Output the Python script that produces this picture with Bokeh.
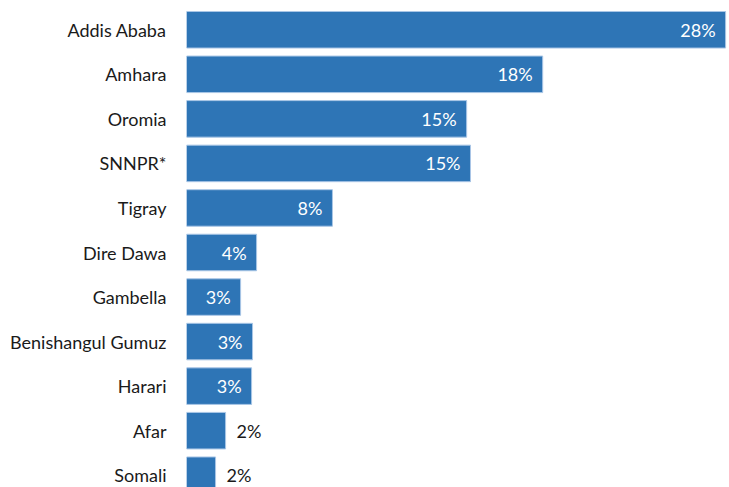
from bokeh.plotting import figure
from bokeh.models import ColumnDataSource, Range1d
from bokeh.core.properties import value
from bokeh.embed import file_html
from bokeh.resources import INLINE

regions = ["Addis Ababa", "Amhara", "Oromia", "SNNPR*", "Tigray", "Dire Dawa",
           "Gambella", "Benishangul Gumuz", "Harari", "Afar", "Somali"]
shares = [28.0, 18.5, 14.55, 14.75, 7.58, 3.64, 2.81, 3.43, 3.38, 2.03, 1.51]
labels = ["28%", "18%", "15%", "15%", "8%", "4%", "3%", "3%", "3%", "2%", "2%"]

inside = [v >= 2.5 for v in shares]
src = ColumnDataSource(dict(
    region=regions, share=shares, label=labels,
    color=["white" if i else "#1a1a1a" for i in inside],
    align=["right" if i else "left" for i in inside],
    xoff=[-10 if i else 11 for i in inside],
))

FONT = "Lato"

p = figure(width=728, height=497, y_range=list(reversed(regions)),
           x_range=Range1d(0, 28.15), output_backend="svg", toolbar_location=None,
           min_border_left=186, min_border_right=0, min_border_top=7, min_border_bottom=0)
p.y_range.range_padding = 0

p.hbar(y="region", right="share", left=0, height=0.82, source=src,
       fill_color="#2E75B6", line_color="#a9c6e6", line_width=1)

p.text(x="share", y="region", text="label", source=src, text_color="color",
       text_align="align", x_offset="xoff", text_baseline="middle",
       text_font=value(FONT), text_font_size="18px")

p.xaxis.visible = False
p.xgrid.visible = False
p.ygrid.visible = False
p.outline_line_color = None
yax = p.yaxis[0]
yax.axis_line_color = None
yax.major_tick_line_color = None
yax.minor_tick_line_color = None
yax.major_tick_out = 0
yax.major_tick_in = 0
yax.major_label_standoff = 20
yax.major_label_text_font = FONT
yax.major_label_text_font_size = "18px"
yax.major_label_text_color = "#1a1a1a"

open("out.html", "w").write(file_html(p, INLINE))
